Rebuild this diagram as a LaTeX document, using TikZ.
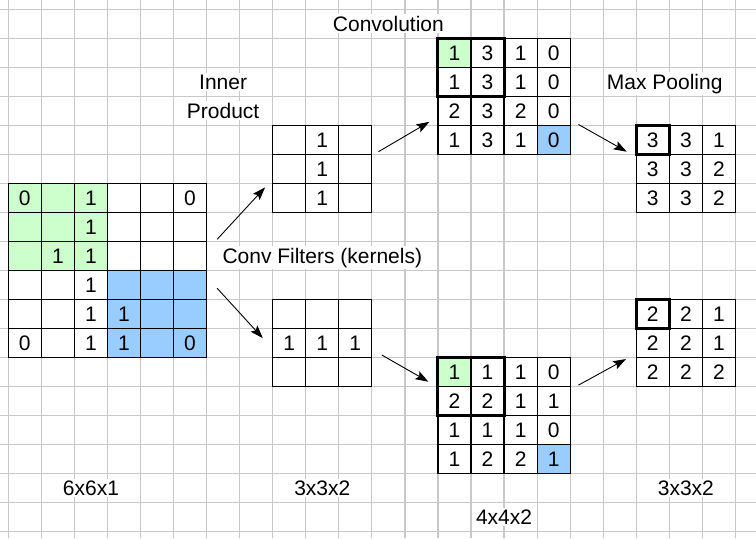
\documentclass[tikz,border=0pt]{standalone}
\usepackage{fontspec}
\setmainfont{Liberation Sans}
\usetikzlibrary{matrix,arrows.meta}
\definecolor{gridgray}{RGB}{200,200,200}
\definecolor{cellgreen}{RGB}{204,255,204}
\definecolor{cellblue}{RGB}{153,204,255}

\begin{document}
\begin{tikzpicture}[x=33.05pt,y=-29pt,
gridline/.style={draw=gridgray,line width=1.2pt},
cell/.style={draw,fill=white,line width=1.2pt,minimum width=33.05pt,minimum height=29pt,inner sep=0pt,outer sep=0pt,anchor=center,font=\fontsize{21}{25}\selectfont},
grn/.style={fill=cellgreen},
blu/.style={fill=cellblue},
layer/.style={matrix of nodes,nodes in empty cells,nodes={cell},column sep=-1.2pt,row sep=-1.2pt,inner sep=0pt,outer sep=0pt,anchor=north west,xshift=-0.6pt,yshift=0.6pt},
heading/.style={font=\fontsize{21}{25}\selectfont,fill=white,inner xsep=3pt,inner ysep=1.5pt,anchor=base},
focus/.style={line width=3pt},
flow/.style={line width=0.9pt,-{Stealth[length=13pt,width=9pt,inset=2.5pt]}}]
\useasboundingbox (-0.2511,-0.3207) rectangle (22.623,18.231);
\foreach \i in {0,...,22} \draw[gridline] (\i,-0.3207) -- (\i,18.231);
\foreach \j in {0,...,18} \draw[gridline] (-0.2511,\j) -- (22.623,\j);

\matrix (in6) [layer] at (0,6) {
|[grn]|0 & |[grn]| & |[grn]|1 & & & 0 \\
|[grn]| & |[grn]| & |[grn]|1 & & & \\
|[grn]| & |[grn]|1 & |[grn]|1 & & & \\
 & & 1 & |[blu]| & |[blu]| & |[blu]| \\
 & & 1 & |[blu]|1 & |[blu]| & |[blu]| \\
0 & & 1 & |[blu]|1 & |[blu]| & |[blu]|0 \\
};
\matrix (filt1) [layer] at (8,4) {
 & 1 & \\
 & 1 & \\
 & 1 & \\
};
\matrix (filt2) [layer] at (8,10) {
 & & \\
1 & 1 & 1 \\
 & & \\
};
\matrix (conv1) [layer] at (13,1) {
|[grn]|1 & 3 & 1 & 0 \\
1 & 3 & 1 & 0 \\
2 & 3 & 2 & 0 \\
1 & 3 & 1 & |[blu]|0 \\
};
\matrix (conv2) [layer] at (13,12) {
|[grn]|1 & 1 & 1 & 0 \\
2 & 2 & 1 & 1 \\
1 & 1 & 1 & 0 \\
1 & 2 & 2 & |[blu]|1 \\
};
\matrix (pool1) [layer] at (19,4) {
3 & 3 & 1 \\
3 & 3 & 2 \\
3 & 3 & 2 \\
};
\matrix (pool2) [layer] at (19,10) {
2 & 2 & 1 \\
2 & 2 & 1 \\
2 & 2 & 2 \\
};
\draw[focus] (conv1-1-1.north west) rectangle (conv1-2-2.south east);
\draw[focus] (conv2-1-1.north west) rectangle (conv2-2-2.south east);
\draw[focus] (pool1-1-1.north west) rectangle (pool1-1-1.south east);
\draw[focus] (pool2-1-1.north west) rectangle (pool2-1-1.south east);

\node[heading] (convtitle) at (11.5,0.75) {Convolution};
\node[heading] (innertitle) at (6.5,2.75) {Inner};
\node[heading] (producttitle) at (6.5,3.75) {Product};
\node[heading] (pooltitle) at (19.86,2.75) {Max Pooling};
\node[heading] (filttitle) at (9.5,8.75) {Conv Filters (kernels)};
\node[heading] (dimin) at (2.5,16.75) {6x6x1};
\node[heading] (dimfilt) at (9.5,16.75) {3x3x2};
\node[heading] (dimconv) at (15,17.75) {4x4x2};
\node[heading] (dimpool) at (20.5,16.75) {3x3x2};

\coordinate (in2f1) at (6.32,7.93);
\coordinate (f1in) at (7.77,6.14);
\coordinate (in2f2) at (6.32,9.62);
\coordinate (f2in) at (7.70,11.34);
\coordinate (f12c1) at (11.2,4.91);
\coordinate (c1in) at (12.74,3.88);
\coordinate (f22c2) at (11.3,11.92);
\coordinate (c2in) at (12.71,12.84);
\coordinate (c12p1) at (17.25,3.97);
\coordinate (p1in) at (18.71,4.91);
\coordinate (c22p2) at (17.25,12.96);
\coordinate (p2in) at (18.69,12.06);
\draw[flow] (in2f1) -- (f1in);
\draw[flow] (in2f2) -- (f2in);
\draw[flow] (f12c1) -- (c1in);
\draw[flow] (f22c2) -- (c2in);
\draw[flow] (c12p1) -- (p1in);
\draw[flow] (c22p2) -- (p2in);
\end{tikzpicture}
\end{document}
